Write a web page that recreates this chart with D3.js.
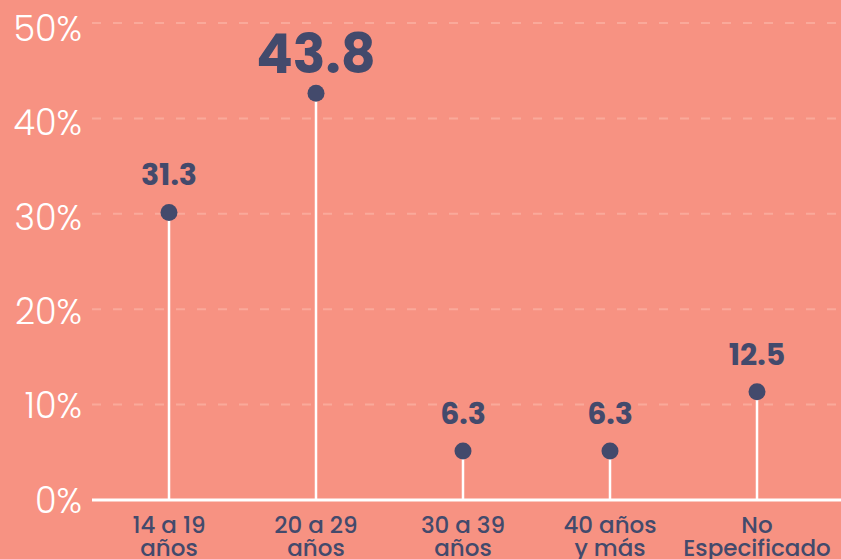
<!DOCTYPE html>
<html>
<head>
<meta charset="utf-8">
<script src="https://cdn.jsdelivr.net/npm/d3@7"></script>
<style>
  html, body { margin: 0; padding: 0; background: #f79282; }
  svg { display: block; font-family: "Poppins", "Inter", "Open Sans", sans-serif; }
</style>
</head>
<body>
<div id="chart"></div>
<script>
// age groups, two lines per label
var categories = ["14 a 19 años", "20 a 29 años", "30 a 39 años", "40 años y más", "No Especificado"];
var labelLines = [["14 a 19", "años"], ["20 a 29", "años"], ["30 a 39", "años"], ["40 años", "y más"], ["No", "Especificado"]];
var values = [31.3, 43.8, 6.3, 6.3, 12.5];
var yTicks = [0, 10, 20, 30, 40, 50];

var width = 841, height = 559;
var bg = "#f79282", dark = "#434a6c";

var svg = d3.select("#chart").append("svg")
    .attr("width", width)
    .attr("height", height);

svg.append("rect").attr("width", width).attr("height", height).attr("fill", bg);

// scales
var x = d3.scalePoint().domain(categories).range([169, 757]);
var y = d3.scaleLinear().domain([0, 50]).range([500, 23]);
var yLabel = d3.scaleLinear().domain([0, 50]).range([500, 28.5]);

// gridlines
svg.append("g").selectAll("line")
    .data(yTicks.filter(function(d) { return d > 0; }))
    .enter().append("line")
    .attr("x1", 92).attr("x2", width)
    .attr("y1", function(d) { return y(d); })
    .attr("y2", function(d) { return y(d); })
    .attr("stroke", "#faa99a")
    .attr("stroke-width", 2)
    .attr("stroke-dasharray", "9,12");

// y tick labels
svg.append("g").selectAll("text")
    .data(yTicks)
    .enter().append("text")
    .attr("x", 82)
    .attr("y", function(d) { return yLabel(d); })
    .attr("dy", "0.36em")
    .attr("text-anchor", "end")
    .attr("fill", "#ffffff")
    .style("font-size", "35px")
    .style("font-weight", 300)
    .text(function(d) { return d + "%"; });

// stems
var dotOffset = 11;
svg.append("g").selectAll("line")
    .data(values)
    .enter().append("line")
    .attr("x1", function(d, i) { return x(categories[i]); })
    .attr("x2", function(d, i) { return x(categories[i]); })
    .attr("y1", y(0))
    .attr("y2", function(d) { return y(d) + dotOffset; })
    .attr("stroke", "#ffffff")
    .attr("stroke-width", 2.5);

// baseline
svg.append("line")
    .attr("x1", 92).attr("x2", width)
    .attr("y1", y(0)).attr("y2", y(0))
    .attr("stroke", "#ffffff")
    .attr("stroke-width", 3);

// dots
svg.append("g").selectAll("circle")
    .data(values)
    .enter().append("circle")
    .attr("cx", function(d, i) { return x(categories[i]); })
    .attr("cy", function(d) { return y(d) + dotOffset; })
    .attr("r", 8.5)
    .attr("fill", dark);

// value labels, the largest one stands out
var maxVal = d3.max(values);
svg.append("g").selectAll("text")
    .data(values)
    .enter().append("text")
    .attr("x", function(d, i) { return x(categories[i]); })
    .attr("y", function(d) { return y(d) + dotOffset - (d == maxVal ? 20 : 27); })
    .attr("text-anchor", "middle")
    .attr("fill", dark)
    .style("font-weight", 700)
    .style("font-size", function(d) { return d == maxVal ? "54px" : "30px"; })
    .text(function(d) { return d.toFixed(1); });

// category labels
var cat = svg.append("g").selectAll("text")
    .data(labelLines)
    .enter().append("text")
    .attr("text-anchor", "middle")
    .attr("fill", dark)
    .style("font-size", "23px")
    .style("font-weight", 500);
cat.selectAll("tspan")
    .data(function(d, i) { return d.map(function(t) { return {t: t, i: i}; }); })
    .enter().append("tspan")
    .attr("x", function(d) { return x(categories[d.i]); })
    .attr("y", function(d, j) { return 533 + j * 23; })
    .text(function(d) { return d.t; });
</script>
</body>
</html>
